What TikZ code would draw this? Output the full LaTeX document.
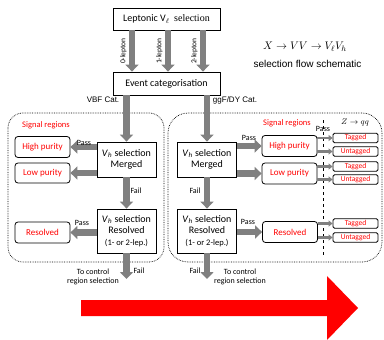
\documentclass[tikz,border=0pt]{standalone}
\usepackage{fontspec}
\setmainfont{Carlito}
\newfontfamily\arialfont{Liberation Sans}
\newfontfamily\timesfont{Liberation Serif}
\usetikzlibrary{positioning,arrows.meta}
\definecolor{flowgrey}{HTML}{808080}
\definecolor{flowred}{HTML}{FF0000}
\newcommand{\vhad}{\textit{V}\textsubscript{\textit{h}}}

\begin{document}
\begin{tikzpicture}[x=1pt,y=-1pt,
      box/.style={draw,line width=0.8pt,align=center,inner sep=1pt,font=\fontsize{10}{11.5}\selectfont},
      selbox/.style={box,minimum width=59pt},
      sigbox/.style={draw,line width=0.8pt,rounded corners=3pt,text=flowred,minimum width=55pt,minimum height=21pt,inner sep=1pt,font=\fontsize{9}{10}\selectfont},
      tagbox/.style={draw,line width=0.8pt,rounded corners=1.5pt,text=flowred,minimum width=45pt,minimum height=9.5pt,inner sep=0pt,font=\fontsize{7.5}{8}\selectfont},
      flow/.style={draw=flowgrey,line width=6.5pt,-{Triangle[width=13pt,length=7pt]}},
      smallflow/.style={draw=flowgrey,line width=2.5pt,-{Triangle[width=6pt,length=4pt]}},
      lbl/.style={inner sep=1pt,font=\fontsize{8}{9.5}\selectfont},
      region/.style={draw,densely dotted,line width=0.7pt}]
    \useasboundingbox (0,0) rectangle (384,340);

    % regions
    \draw[region,rounded corners=15pt] (8,113) rectangle (164,262);
    \draw[region,rounded corners=20pt] (168,113) rectangle (382,262);
    \draw[dashed,line width=0.7pt] (323,120) -- (323,255);

    % top of the flow
    \node[box,minimum width=107pt,minimum height=22pt] (lep) at (166.5,19) {Leptonic V$_\ell$ \ {\timesfont selection}};
    \node[box,minimum width=107pt,minimum height=23pt] (evt) at (166.5,83.5) {Event categorisation};
    \foreach \dx/\n in {-34.5/0,1.5/1,36.5/2}
      \draw[flow] ([xshift=\dx pt]lep.south) -- ([xshift=\dx pt]evt.north)
        node[midway,rotate=90,anchor=south,outer sep=4.5pt,lbl,font=\fontsize{7.5}{8}\selectfont] {\n-lepton};

    \node[font=\fontsize{11}{12}\selectfont] (title) at (305,47) {$X\rightarrow VV\rightarrow V_\ell V_h$};
    \node[font=\arialfont\fontsize{10}{11}\selectfont] (subtitle) at (307.5,64) {selection flow schematic};

    % VBF side
    \node[selbox,minimum height=35pt] (mergeL) at (126.5,159.5) {\vhad{} selection\\Merged};
    \node[selbox,minimum height=44pt] (resL) at (126.5,231) {\vhad{} selection\\Resolved\\{\fontsize{8.5}{10}\selectfont(1- or 2-lep.)}};
    \node[sigbox] (highL) at (42.5,147) {High purity};
    \node[sigbox,minimum height=20pt] (lowL) at (42.5,173) {Low purity};
    \node[sigbox] (sresL) at (42.5,232.5) {Resolved};
    \node[lbl,text=flowred,font=\fontsize{8.5}{9}\selectfont] (sigL) at (46,125) {Signal regions};
    \coordinate (ctrlL) at (126.5,279);

    \draw[flow] (evt.south -| mergeL) -- (mergeL);
    \draw[flow] (mergeL.west |- highL) -- (highL.east);
    \draw[flow] (mergeL.west |- lowL) -- (lowL.east);
    \draw[flow] (mergeL) -- (resL);
    \draw[flow] (resL.west |- sresL) -- (sresL.east);
    \draw[flow] (resL) -- (ctrlL);

    \node[lbl,font=\arialfont\fontsize{8}{9}\selectfont] (vbf) at (103,100) {VBF Cat.};
    \node[lbl] (passL1) at (84,143) {Pass};
    \node[lbl] (passL2) at (82,223) {Pass};
    \node[lbl] (failL1) at (136,191) {Fail};
    \node[lbl] (failL2) at (139,271) {Fail};
    \node[lbl,align=center] (crL) at (93,277) {To control\\region selection};

    % ggF/DY side
    \node[selbox,minimum height=35pt] (mergeR) at (207,159.5) {\vhad{} selection\\Merged};
    \node[selbox,minimum height=44pt] (resR) at (207,231) {\vhad{} selection\\Resolved\\{\fontsize{8.5}{10}\selectfont(1- or 2-lep.)}};
    \node[sigbox] (highR) at (289.5,146) {High purity};
    \node[sigbox] (lowR) at (289.5,173.5) {Low purity};
    \node[sigbox] (sresR) at (290,232) {Resolved};
    \node[lbl,text=flowred,font=\fontsize{8.5}{9}\selectfont] (sigR) at (287,123) {Signal regions};
    \node[lbl,font=\fontsize{8.5}{9}\selectfont] (zqq) at (355,123) {$Z\rightarrow qq$};
    \coordinate (ctrlR) at (207,279);

    \draw[flow] (evt.south -| mergeR) -- (mergeR);
    \draw[flow] (mergeR.east |- highR) -- (highR.west);
    \draw[flow] (mergeR.east |- lowR) -- (lowR.west);
    \draw[flow] (mergeR) -- (resR);
    \draw[flow] (resR.east |- sresR) -- (sresR.west);
    \draw[flow] (resR) -- (ctrlR);

    \node[lbl,font=\arialfont\fontsize{8}{9}\selectfont] (ggf) at (235,100) {ggF/DY Cat.};
    \node[lbl] (passR1) at (249,138) {Pass};
    \node[lbl] (passR2) at (248,222) {Pass};
    \node[lbl] (passR3) at (323,129) {Pass};
    \node[lbl] (failR1) at (195,191) {Fail};
    \node[lbl] (failR2) at (195,271) {Fail};
    \node[lbl,align=center] (crR) at (240,277) {To control\\region selection};

    % Z -> qq tagging
    \node[tagbox] (tagA) at (355.5,138) {Tagged};
    \node[tagbox] (untagA) at (355.5,151.5) {Untagged};
    \node[tagbox] (tagB) at (355.5,166.5) {Tagged};
    \node[tagbox] (untagB) at (355.5,179.5) {Untagged};
    \node[tagbox] (tagC) at (355.5,223.5) {Tagged};
    \node[tagbox] (untagC) at (355.5,237.5) {Untagged};
    \draw[smallflow] (highR.east |- tagA) -- (tagA.west);
    \draw[smallflow] (highR.east |- untagA) -- (untagA.west);
    \draw[smallflow] (lowR.east |- tagB) -- (tagB.west);
    \draw[smallflow] (lowR.east |- untagB) -- (untagB.west);
    \draw[smallflow] (sresR.east |- tagC) -- (tagC.west);
    \draw[smallflow] (sresR.east |- untagC) -- (untagC.west);

    % big arrow
    \fill[flowred] (81,300) -- (327,300) -- (327,276) -- (358,308) -- (327,340) -- (327,316) -- (81,316) -- cycle;
  \end{tikzpicture}
\end{document}
